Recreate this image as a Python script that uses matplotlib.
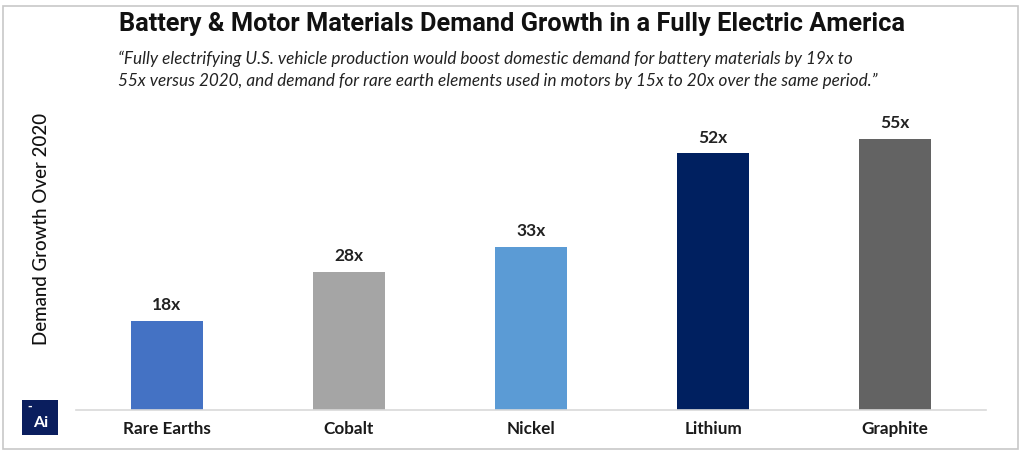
import matplotlib
matplotlib.use("Agg")
import matplotlib.pyplot as plt
from matplotlib.patches import Rectangle

categories = ["Rare Earths", "Cobalt", "Nickel", "Lithium", "Graphite"]
values = [18, 28, 33, 52, 55]
value_labels = ["18x", "28x", "33x", "52x", "55x"]
colors = ["#4472C4", "#A5A5A5", "#5B9BD5", "#002060", "#636363"]

title = "Battery & Motor Materials Demand Growth in a Fully Electric America"
subtitle = ("\u201cFully electrifying U.S. vehicle production would boost domestic demand for battery materials by 19x to\n"
            "55x versus 2020, and demand for rare earth elements used in motors by 15x to 20x over the same period.\u201d")
ylabel = "Demand Growth Over 2020"

W, H = 1024, 454
fig = plt.figure(figsize=(W / 100, H / 100), dpi=100)
fig.patch.set_facecolor("white")

# border
fig.add_artist(Rectangle((3 / W, 5 / H), 1015 / W, 443 / H, transform=fig.transFigure,
                         fill=False, edgecolor="#C8C8C8", linewidth=1.2))

ax = fig.add_axes([76 / W, 44 / H, (986 - 76) / W, (410 - 114) / H])
x = list(range(len(categories)))
bars = ax.bar(x, values, width=0.4, color=colors)
ax.set_xlim(-0.5, 4.5)
ax.set_ylim(0, 60)
for xi, v, lab in zip(x, values, value_labels):
    ax.text(xi, v + 1.6, lab, ha="center", va="bottom", fontsize=12.5,
            fontweight="bold", color="#222222", family="Lato")
ax.set_xticks(x)
ax.set_xticklabels(categories, fontsize=12.3, fontweight="bold", family="Lato", color="#1a1a1a")
ax.tick_params(axis="x", length=0, pad=8)
ax.set_yticks([])
for s in ["top", "right", "left"]:
    ax.spines[s].set_visible(False)
ax.spines["bottom"].set_color("#D9D9D9")
ax.spines["bottom"].set_linewidth(1.2)

fig.text(42 / W, 1 - 229 / H, ylabel, rotation=90, ha="center", va="center",
         fontsize=13.5, family="Lato", fontweight="medium", color="#111111")

fig.text(512 / W, 1 - 24 / H, title, ha="center", va="center", fontsize=18.3,
         fontweight="bold", family=["Liberation Sans Narrow", "Roboto"], color="#111111")
fig.text(118 / W, 1 - 70 / H, subtitle, ha="left", va="center", fontsize=12.3,
         style="italic", family="Lato", color="#222222", linespacing=1.45)

# logo
fig.add_artist(Rectangle((22 / W, 1 - 435 / H), 36 / W, 35 / H, transform=fig.transFigure,
                         facecolor="#0A1E5E", edgecolor="none"))
fig.text(41 / W, 1 - 423 / H, "Ai", ha="center", va="center", fontsize=11.5,
         fontweight="bold", color="white", family="Lato")
fig.text(30 / W, 1 - 407 / H, "-", ha="center", va="center", fontsize=8,
         fontweight="bold", color="white")

fig.savefig("out.png", dpi=100, facecolor="white")
